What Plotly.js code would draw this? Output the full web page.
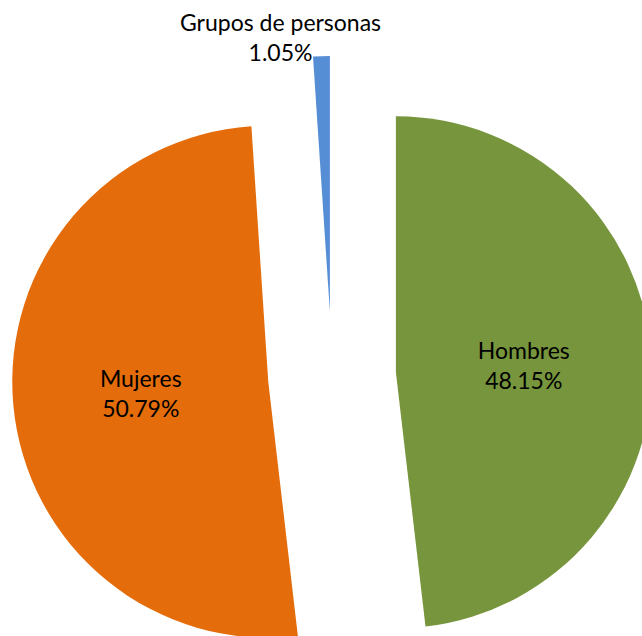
<!DOCTYPE html>
<html>
<head>
<meta charset="utf-8">
<script src="https://cdn.plot.ly/plotly-3.0.1.min.js"></script>
<style>
html, body { margin: 0; padding: 0; overflow: hidden; background: #fff; }
#chart { width: 652px; height: 696px; }
</style>
</head>
<body>
<div id="chart"></div>
<script>
const labels = ["Hombres", "Mujeres", "Grupos de personas"];
const values = [48.15, 50.79, 1.05];
const colors = ["#77953C", "#E46C0A", "#558ED5"];
const pulls = [0.25, 0.25, 0.25];
const textPositions = ["inside", "inside", "none"];

const FONT = "Lato, 'Open Sans', sans-serif";

const trace = {
  type: "pie",
  labels: labels,
  values: values,
  sort: false,
  direction: "clockwise",
  rotation: 0,
  pull: pulls,
  marker: { colors: colors, line: { width: 0 } },
  texttemplate: "%{label}<br>%{value:.2f}%",
  textposition: textPositions,
  insidetextorientation: "horizontal",
  textfont: { family: FONT, size: 23, color: "#000000" },
  hoverinfo: "none",
  showlegend: false,
  automargin: false
};

const layout = {
  width: 652,
  height: 696,
  margin: { l: 12, r: 0, t: 56, b: 0, pad: 0 },
  paper_bgcolor: "#ffffff",
  plot_bgcolor: "#ffffff",
  showlegend: false,
  annotations: [{
    text: labels[2] + "<br>" + values[2].toFixed(2) + "%",
    xref: "paper", yref: "paper",
    x: 0.419, y: 1.03,
    xanchor: "center", yanchor: "middle",
    showarrow: false,
    align: "center",
    font: { family: FONT, size: 23, color: "#000000" }
  }]
};

Plotly.newPlot("chart", [trace], layout, { displayModeBar: false, staticPlot: true });
</script>
</body>
</html>
